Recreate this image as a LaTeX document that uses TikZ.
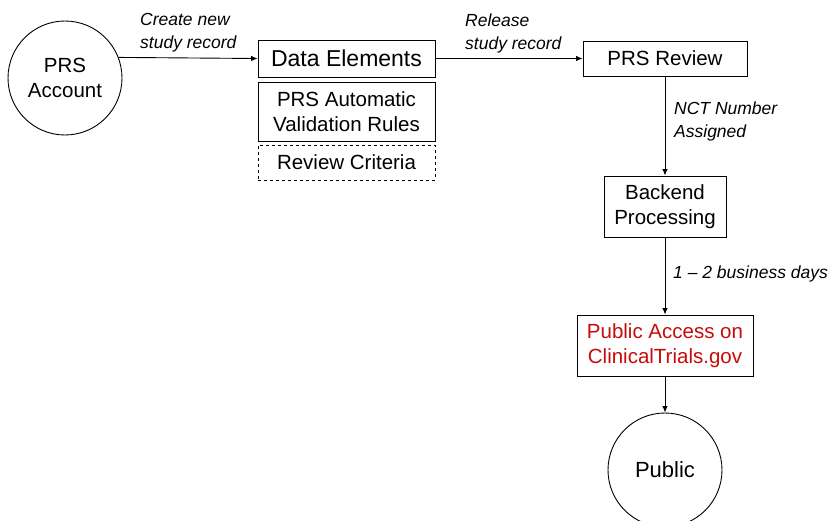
\documentclass[tikz,border=0pt]{standalone}
\usepackage{fontspec}
\setmainfont{Liberation Sans}
\usetikzlibrary{arrows.meta}
\definecolor{ctred}{RGB}{200,10,10}
\begin{document}
\begin{tikzpicture}[x=1pt,y=-1pt,
  boxs/.style={draw, line width=0.9pt, inner sep=0pt, align=center, font=\fontsize{20.5}{24.5}\selectfont},
  circs/.style={draw, circle, line width=0.9pt, inner sep=0pt, minimum size=114pt, align=center, font=\fontsize{20.5}{25}\selectfont},
  lab/.style={anchor=west, align=left, inner sep=0pt, font=\fontsize{17.5}{23}\selectfont\itshape},
  conn/.style={line width=0.9pt, -{Latex[length=6.5pt,width=5.5pt]}}]
\useasboundingbox (0,0) rectangle (834,521);
\node[circs] (acc) at (65,78) {PRS\\Account};
\node[boxs, minimum width=177pt, minimum height=37pt, font=\fontsize{23}{27}\selectfont] (de) at (346.5,58.5) {Data Elements};
\node[boxs, minimum width=177pt, minimum height=59pt] (val) at (346.5,111.5) {PRS Automatic\\Validation Rules};
\node[boxs, dashed, line width=0.6pt, minimum width=177pt, minimum height=35pt] (rc) at (346.5,162.5) {Review Criteria};
\node[boxs, minimum width=164pt, minimum height=35pt] (rev) at (665,58.5) {PRS Review};
\node[boxs, minimum width=122pt, minimum height=61pt] (be) at (665,206.5) {Backend\\Processing};
\node[boxs, minimum width=176pt, minimum height=61pt, text=ctred] (pa) at (665,345.5) {Public Access on\\ClinicalTrials.gov};
\node[circs, font=\fontsize{22}{26}\selectfont] (pub) at (665,470) {Public};
\draw[conn] (acc.21) -- (de.west);
\draw[conn] (de.east) -- (rev.west);
\draw[conn] (rev.south) -- (be.north);
\draw[conn] (be.south) -- (pa.north);
\draw[conn] (pa.south) -- (pub.north);
\node[lab] (l1) at (140,33) {Create new\\study record};
\node[lab] (l2) at (465,33) {Release\\study record};
\node[lab] (l3) at (674,121) {NCT Number\\Assigned};
\node[lab] (l4) at (673,274) {1 – 2 business days};
\end{tikzpicture}
\end{document}
